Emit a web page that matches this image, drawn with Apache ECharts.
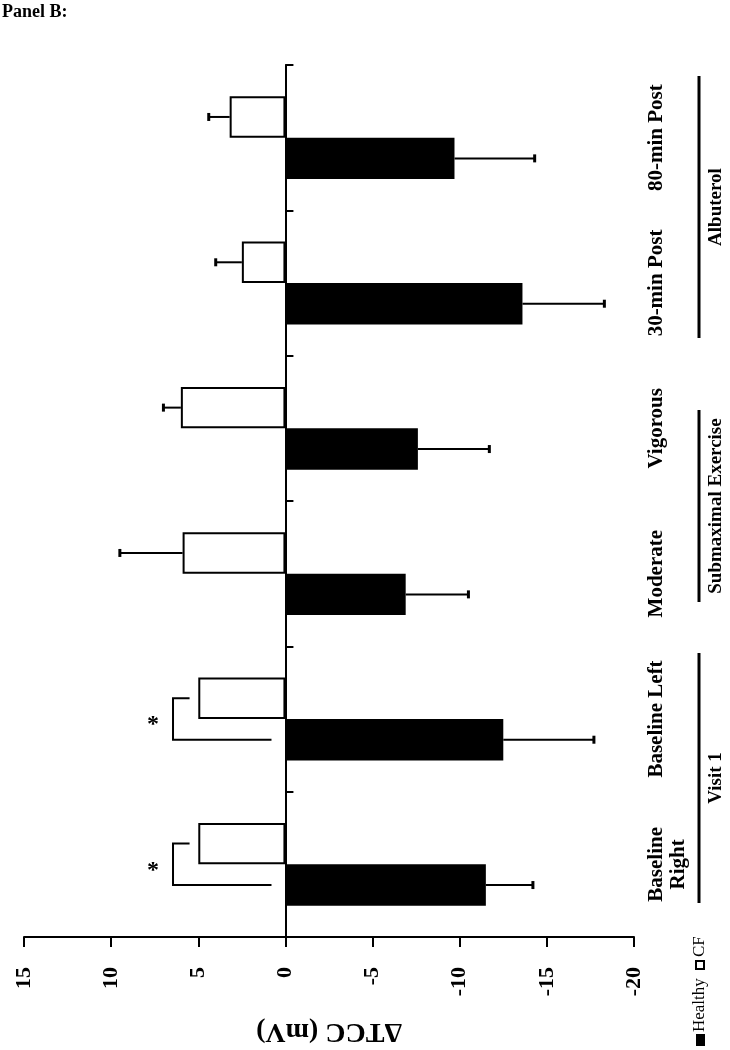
<!DOCTYPE html>
<html>
<head>
<meta charset="utf-8">
<script src="https://cdn.jsdelivr.net/npm/echarts@6/dist/echarts.min.js"></script>
<style>
html,body{margin:0;padding:0;background:#fff;}
#chart{width:730px;height:1050px;}
</style>
</head>
<body>
<div id="chart"></div>
<script>
// ---- data ----
var categories = ['Baseline\nRight', 'Baseline Left', 'Moderate', 'Vigorous', '30-min Post', '80-min Post'];
var healthy = [-11.5, -12.5, -6.9, -7.6, -13.6, -9.7];
var healthyErr = [2.7, 5.2, 3.6, 4.1, 4.7, 4.6];
var cf = [5.0, 5.0, 5.9, 6.0, 2.5, 3.2];
var cfErr = [0, 0, 3.6, 1.0, 1.5, 1.2];
var sigCats = [0, 1];
var sigBracket = [6.45, 6.45];     // vertical bracket line value
var sigTopEnd = [5.5, 5.5];        // end of upper arm (CF side)
var sigBottomEnd = [0.8, 0.8];     // end of lower arm (Healthy side)
var sigStar = [7.6, 7.6];
var xTicks = {min: -20, max: 15, interval: 5};
var groups = ['Visit 1', 'Submaximal Exercise', 'Albuterol'];

var FONT = "'Liberation Serif','Times New Roman',serif";
var chart = echarts.init(document.getElementById('chart'));

var BAR_FRAC = 0.1425;

function errorItem(sign) {
  return function (params, api) {
    var cat = api.value(0), v = api.value(1), e = api.value(2);
    if (!e) return null;
    var dir = v < 0 ? -1 : 1;
    var band = api.size([0, 1])[1];
    var dy = sign * band * BAR_FRAC;
    var a = api.coord([v, cat]);
    var b = api.coord([v + dir * e, cat]);
    var y = a[1] + dy;
    return {
      type: 'group',
      children: [
        {type: 'line', shape: {x1: a[0], y1: y, x2: b[0], y2: y}, style: {stroke: '#000', lineWidth: 2}},
        {type: 'line', shape: {x1: b[0], y1: y - 4, x2: b[0], y2: y + 4}, style: {stroke: '#000', lineWidth: 3}}
      ]
    };
  };
}

function bracketItem(params, api) {
  var cat = api.value(0);
  var band = api.size([0, 1])[1];
  var c = api.coord([0, cat]);
  var yCF = c[1] - band * BAR_FRAC;
  var yH = c[1] + band * BAR_FRAC;
  var xv = api.coord([api.value(1), cat])[0];
  var xt = api.coord([api.value(2), cat])[0];
  var xb = api.coord([api.value(3), cat])[0];
  var xs = api.coord([api.value(4), cat])[0];
  return {
    type: 'group',
    children: [
      {type: 'polyline', shape: {points: [[xt, yCF], [xv, yCF], [xv, yH], [xb, yH]]},
       style: {stroke: '#000', lineWidth: 2, fill: null}},
      {type: 'text', x: xs, y: c[1] + 6,
       style: {text: '*', font: 'bold 24px ' + FONT, fill: '#000', align: 'center', verticalAlign: 'middle'}}
    ]
  };
}

var healthyErrData = healthy.map(function (v, i) { return [i, v, healthyErr[i]]; });
var cfErrData = cf.map(function (v, i) { return [i, v, cfErr[i]]; });
var sigData = sigCats.map(function (c, i) { return [c, sigBracket[i], sigTopEnd[i], sigBottomEnd[i], sigStar[i]]; });

var option = {
  backgroundColor: '#fff',
  animation: false,
  grid: {left: 24, right: 96, top: 65, bottom: 113, containLabel: false},
  xAxis: {
    type: 'value', inverse: true,
    min: xTicks.min, max: xTicks.max, interval: xTicks.interval,
    splitLine: {show: false},
    axisLine: {show: true, onZero: false, lineStyle: {color: '#000', width: 2}},
    axisTick: {show: true, length: 10, lineStyle: {color: '#000', width: 2}},
    axisLabel: {rotate: 90, margin: 30, color: '#000', fontFamily: FONT, fontWeight: 'bold', fontSize: 22},
    name: 'ΔTCC (mV)', nameLocation: 'middle', nameRotate: 180, nameGap: 80,
    nameTextStyle: {color: '#000', fontFamily: FONT, fontWeight: 'bold', fontSize: 28}
  },
  yAxis: [
    {
      type: 'category', data: categories, position: 'left',
      axisLine: {show: true, onZero: true, lineStyle: {color: '#000', width: 2}},
      axisTick: {show: true, inside: true, length: 8, lineStyle: {color: '#000', width: 2}},
      axisLabel: {show: false},
      splitLine: {show: false}
    },
    {
      type: 'category', data: categories, position: 'right',
      axisLine: {show: false}, axisTick: {show: false}, splitLine: {show: false},
      axisLabel: {interval: 0, rotate: 90, margin: 12, color: '#000', fontFamily: FONT, fontWeight: 'bold', fontSize: 21, lineHeight: 22}
    }
  ],
  series: [
    {
      name: 'CF', type: 'bar', data: cf, yAxisIndex: 0,
      barGap: '0%', barCategoryGap: '43%',
      itemStyle: {color: '#fff', borderColor: '#000', borderWidth: 2}
    },
    {
      name: 'Healthy', type: 'bar', data: healthy, yAxisIndex: 0,
      barGap: '0%', barCategoryGap: '43%',
      itemStyle: {color: '#000'}
    },
    {
      type: 'custom', renderItem: errorItem(1), data: healthyErrData,
      encode: {x: [1], y: 0}, yAxisIndex: 0, clip: false, z: 5
    },
    {
      type: 'custom', renderItem: errorItem(-1), data: cfErrData,
      encode: {x: [1], y: 0}, yAxisIndex: 0, clip: false, z: 5
    },
    {
      type: 'custom', renderItem: bracketItem, data: sigData,
      encode: {x: [1, 2, 3, 4], y: 0}, yAxisIndex: 0, clip: false, z: 5
    }
  ],
  graphic: [
    {type: 'text', left: 2, top: 3, style: {text: 'Panel B:', font: 'bold 18px ' + FONT, fill: '#000'}},
    // group lines
    {type: 'line', shape: {x1: 699, y1: 76, x2: 699, y2: 338}, style: {stroke: '#000', lineWidth: 3}},
    {type: 'line', shape: {x1: 699, y1: 410, x2: 699, y2: 602}, style: {stroke: '#000', lineWidth: 3}},
    {type: 'line', shape: {x1: 699, y1: 653, x2: 699, y2: 903}, style: {stroke: '#000', lineWidth: 3}},
    // group labels
    {type: 'text', x: 716, y: 207, rotation: Math.PI / 2,
     style: {text: groups[2], font: 'bold 19px ' + FONT, fill: '#000', align: 'center', verticalAlign: 'middle'}},
    {type: 'text', x: 716, y: 506, rotation: Math.PI / 2,
     style: {text: groups[1], font: 'bold 19px ' + FONT, fill: '#000', align: 'center', verticalAlign: 'middle'}},
    {type: 'text', x: 716, y: 778, rotation: Math.PI / 2,
     style: {text: groups[0], font: 'bold 19px ' + FONT, fill: '#000', align: 'center', verticalAlign: 'middle'}},
    // legend
    {type: 'rect', shape: {x: 696, y: 1034, width: 9, height: 12}, style: {fill: '#000'}},
    {type: 'text', x: 700, y: 1032, rotation: Math.PI / 2,
     style: {text: 'Healthy', font: '17px ' + FONT, fill: '#000', align: 'left', verticalAlign: 'middle'}},
    {type: 'rect', shape: {x: 696, y: 961, width: 8, height: 8}, style: {fill: '#fff', stroke: '#000', lineWidth: 2}},
    {type: 'text', x: 700, y: 957, rotation: Math.PI / 2,
     style: {text: 'CF', font: '17px ' + FONT, fill: '#000', align: 'left', verticalAlign: 'middle'}}
  ]
};
chart.setOption(option);
</script>
</body>
</html>
